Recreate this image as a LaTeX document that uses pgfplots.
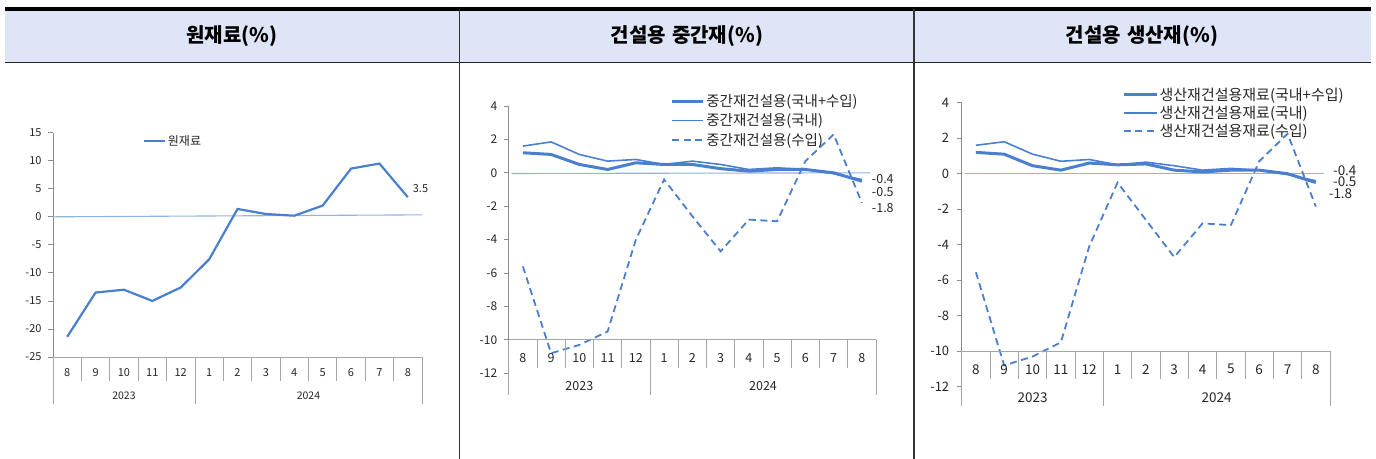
\documentclass[border=0pt]{standalone}
\usepackage{pgfplots}
\pgfplotsset{compat=1.18}
\usepackage{fontspec}
\setmainfont{Noto Sans CJK KR}
\definecolor{lineblue}{HTML}{4A7FCF}
\definecolor{zeroblue}{HTML}{8EB4E3}
\definecolor{hdr}{HTML}{DEE5F6}
\definecolor{axgray}{HTML}{8C8C8C}
\definecolor{sepgray}{HTML}{A6A6A6}
\definecolor{txt}{HTML}{262626}
\newcommand\fs[1]{\fontsize{#1}{#1}\selectfont}
\pgfplotsset{
  base/.style={
    scale only axis, axis x line=none, axis y line*=left,
    y axis line style={axgray, line width=0.8bp},
    ytick style={axgray, line width=0.8bp},
    tick align=outside, major tick length=5bp,
    xmin=-0.5, xmax=12.5, clip=false,
    /pgf/number format/assume math mode=true,
    legend cell align=left,
    legend style={draw=none, fill=none, inner sep=0pt,
      nodes={inner sep=1.5bp, text=txt}},
  },
}
\newcommand\months[3]{%
  \node[font=\fs{#3}, text=txt] at (axis cs:0,#1) [yshift=#2] {8};
  \node[font=\fs{#3}, text=txt] at (axis cs:1,#1) [yshift=#2] {9};
  \node[font=\fs{#3}, text=txt] at (axis cs:2,#1) [yshift=#2] {10};
  \node[font=\fs{#3}, text=txt] at (axis cs:3,#1) [yshift=#2] {11};
  \node[font=\fs{#3}, text=txt] at (axis cs:4,#1) [yshift=#2] {12};
  \node[font=\fs{#3}, text=txt] at (axis cs:5,#1) [yshift=#2] {1};
  \node[font=\fs{#3}, text=txt] at (axis cs:6,#1) [yshift=#2] {2};
  \node[font=\fs{#3}, text=txt] at (axis cs:7,#1) [yshift=#2] {3};
  \node[font=\fs{#3}, text=txt] at (axis cs:8,#1) [yshift=#2] {4};
  \node[font=\fs{#3}, text=txt] at (axis cs:9,#1) [yshift=#2] {5};
  \node[font=\fs{#3}, text=txt] at (axis cs:10,#1) [yshift=#2] {6};
  \node[font=\fs{#3}, text=txt] at (axis cs:11,#1) [yshift=#2] {7};
  \node[font=\fs{#3}, text=txt] at (axis cs:12,#1) [yshift=#2] {8};
}
% #1 y of axis line, #2 short length, #3 long length, #4 year label shift, #5 font size
\newcommand\catframe[5]{%
  \draw[sepgray, line width=0.8bp] (axis cs:-0.5,#1) -- (axis cs:12.5,#1);
  \pgfplotsinvokeforeach{0.5,1.5,2.5,3.5,5.5,6.5,7.5,8.5,9.5,10.5,11.5}{
    \draw[sepgray, line width=0.8bp] (axis cs:##1,#1) -- ++(0bp,-#2);}
  \pgfplotsinvokeforeach{-0.5,4.5,12.5}{
    \draw[sepgray, line width=0.8bp] (axis cs:##1,#1) -- ++(0bp,-#3);}
  \node[font=\fs{#5}, text=txt] at (axis cs:2,#1) [yshift=-#4] {2023};
  \node[font=\fs{#5}, text=txt] at (axis cs:8.5,#1) [yshift=-#4] {2024};
}
\begin{document}
\begin{tikzpicture}[x=1bp,y=1bp]
\useasboundingbox (0,0) rectangle (1376,-459);
\fill[hdr] (5,-9) rectangle (1371,-62.7);
\draw[line width=3.5bp, black] (5,-9) -- (1371,-9);
\draw[line width=1bp, black!85] (5,-62.7) -- (1371,-62.7);
\draw[line width=1.5bp, black!80] (459.3,-9) -- (459.3,-459);
\draw[line width=1.5bp, black!80] (914,-9) -- (914,-459);
\node[font=\bfseries\fs{20bp}] at (232,-36) {원재료(\%)};
\node[font=\bfseries\fs{20bp}] at (687,-36) {건설용\hspace{6bp}중간재(\%)};
\node[font=\bfseries\fs{20bp}] at (1142,-36) {건설용\hspace{6bp}생산재(\%)};

% ---------- chart 1
\begin{axis}[base, at={(53bp,-357bp)}, anchor=south west,
  width=369bp, height=224.3bp, ymin=-25, ymax=15,
  ytick={-25,-20,...,15},
  yticklabel style={font=\fs{11bp}, text=txt, xshift=-3bp},
  legend style={at={(0.244,0.963)}, anchor=west, font=\fs{12bp}},
  legend image code/.code={\draw[#1] (0bp,0bp) -- (21bp,0bp);}]
\addplot[zeroblue, line width=1.1bp, forget plot] coordinates {(-0.5,0) (12.5,0.35)};
\addplot[lineblue, line width=2.2bp] coordinates {
 (0,-21.4) (1,-13.5) (2,-13.0) (3,-15.0) (4,-12.6) (5,-7.6) (6,1.4)
 (7,0.5) (8,0.2) (9,2.0) (10,8.6) (11,9.5) (12,3.5)};
\addlegendentry{원재료}
\catframe{-25}{24bp}{47bp}{39bp}{10.5bp}
\months{-25}{-16bp}{11bp}
\node[font=\fs{11bp}, text=txt, anchor=west, inner sep=0pt] at (axis cs:12.17,5.0) {3.5};
\end{axis}

% ---------- chart 2
\begin{axis}[base, at={(508.7bp,-373.3bp)}, anchor=south west,
  width=367.3bp, height=267.3bp, ymin=-12, ymax=4,
  ytick={-12,-10,...,4},
  yticklabel style={font=\fs{12bp}, text=txt, xshift=-3bp},
  legend style={at={(0.441,1.05)}, anchor=north west, font=\fs{14.5bp}, row sep=3bp},
  legend image code/.code={\draw[#1] (0bp,0bp) -- (31bp,0bp);}]
\addplot[zeroblue, line width=1.1bp, forget plot] coordinates {(-0.4,-0.04) (12.3,0)};
\addplot[lineblue, line width=3bp] coordinates {
 (0,1.2) (1,1.1) (2,0.5) (3,0.2) (4,0.6) (5,0.5) (6,0.5)
 (7,0.25) (8,0.1) (9,0.2) (10,0.2) (11,0.0) (12,-0.5)};
\addlegendentry{중간재건설용(국내+수입)}
\addplot[lineblue, line width=1.6bp] coordinates {
 (0,1.6) (1,1.85) (2,1.1) (3,0.7) (4,0.8) (5,0.5) (6,0.7)
 (7,0.5) (8,0.2) (9,0.3) (10,0.2) (11,-0.05) (12,-0.4)};
\addlegendentry{중간재건설용(국내)}
\addplot[lineblue, line width=1.8bp, dash pattern=on 7bp off 4.5bp] coordinates {
 (0,-5.6) (1,-10.8) (2,-10.3) (3,-9.5) (4,-4.0) (5,-0.4) (6,-2.6)
 (7,-4.7) (8,-2.8) (9,-2.9) (10,0.7) (11,2.3) (12,-1.8)};
\addlegendentry{중간재건설용(수입)}
\catframe{-10}{28bp}{55bp}{46bp}{12.5bp}
\months{-10}{-18bp}{12.5bp}
\node[font=\fs{12.5bp}, text=txt, anchor=west, inner sep=0pt] at (axis cs:12.35,-0.37) {-0.4};
\node[font=\fs{12.5bp}, text=txt, anchor=west, inner sep=0pt] at (axis cs:12.35,-1.13) {-0.5};
\node[font=\fs{12.5bp}, text=txt, anchor=west, inner sep=0pt] at (axis cs:12.35,-2.08) {-1.8};
\end{axis}

% ---------- chart 3
\begin{axis}[base, at={(961.7bp,-386.7bp)}, anchor=south west,
  width=368.3bp, height=284bp, ymin=-12, ymax=4,
  ytick={-12,-10,...,4},
  yticklabel style={font=\fs{13bp}, text=txt, xshift=-4bp},
  legend style={at={(0.435,1.058)}, anchor=north west, font=\fs{15bp}, row sep=1bp},
  legend image code/.code={\draw[#1] (0bp,0bp) -- (33bp,0bp);}]
\addplot[zeroblue, line width=1.1bp, forget plot] coordinates {(-0.4,0) (12.3,0)};
\addplot[lineblue, line width=3bp] coordinates {
 (0,1.2) (1,1.1) (2,0.45) (3,0.2) (4,0.6) (5,0.5) (6,0.55)
 (7,0.2) (8,0.1) (9,0.2) (10,0.2) (11,0.0) (12,-0.5)};
\addlegendentry{생산재건설용재료(국내+수입)}
\addplot[lineblue, line width=1.6bp] coordinates {
 (0,1.6) (1,1.8) (2,1.1) (3,0.7) (4,0.8) (5,0.5) (6,0.65)
 (7,0.45) (8,0.2) (9,0.3) (10,0.2) (11,-0.05) (12,-0.4)};
\addlegendentry{생산재건설용재료(국내)}
\addplot[lineblue, line width=1.8bp, dash pattern=on 7bp off 4.5bp] coordinates {
 (0,-5.55) (1,-10.8) (2,-10.3) (3,-9.5) (4,-4.1) (5,-0.5) (6,-2.6)
 (7,-4.7) (8,-2.8) (9,-2.9) (10,0.7) (11,2.25) (12,-1.85)};
\addlegendentry{생산재건설용재료(수입)}
\catframe{-10}{28bp}{55bp}{46bp}{13.5bp}
\months{-10}{-18bp}{13.5bp}
\node[font=\fs{13.5bp}, text=txt, anchor=west, inner sep=0pt] at (axis cs:12.6,0.15) {-0.4};
\node[font=\fs{13.5bp}, text=txt, anchor=west, inner sep=0pt] at (axis cs:12.6,-0.45) {-0.5};
\node[font=\fs{13.5bp}, text=txt, anchor=west, inner sep=0pt] at (axis cs:12.45,-1.12) {-1.8};
\end{axis}
\end{tikzpicture}
\end{document}
